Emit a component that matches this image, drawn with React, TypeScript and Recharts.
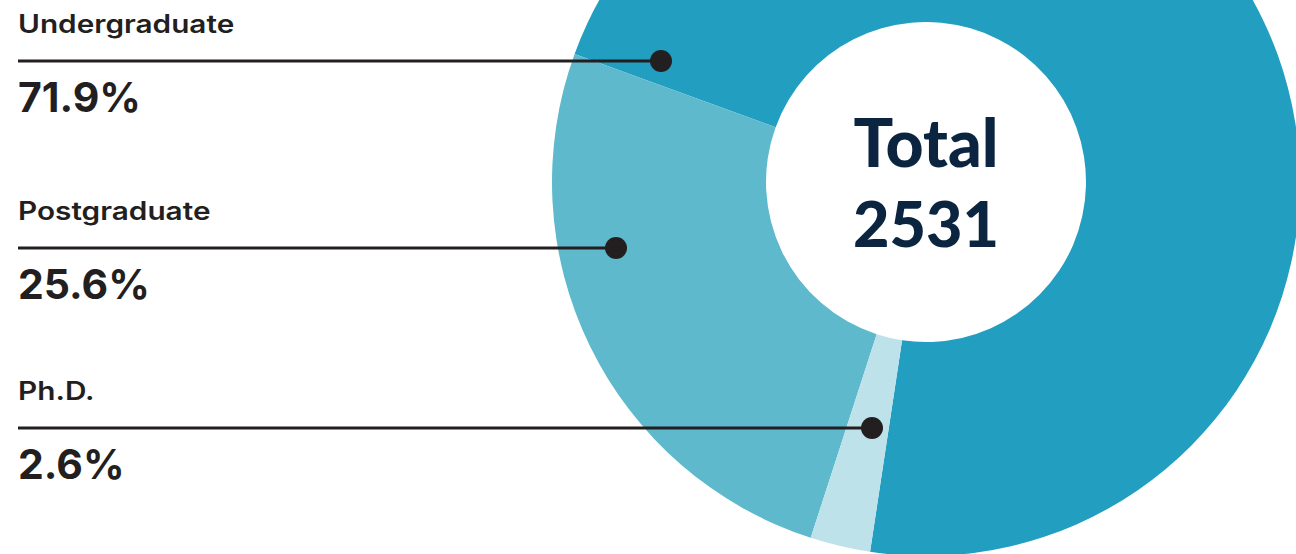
import { PieChart, Pie, Cell } from 'recharts'

const categories = ['Undergraduate', 'Postgraduate', 'Ph.D.']
const shares = [71.9, 25.6, 2.6]
const totalStudents = 2531
const colors = ['#229EC1', '#5EB9CC', '#BEE2EA']

// callout layout (line y and dot x), separate from the data
const calloutY = [61, 248, 428]
const calloutDotX = [661, 616, 872]

const W = 1296
const H = 554
const CX = 926
const CY = 182
const INNER = 160
const OUTER = 374
// puts the Undergraduate/Postgraduate boundary at ~160deg
const START = -98.6

const data = categories.map((name, i) => ({ name, value: shares[i] }))

const ink = '#231f20'
const navy = '#0b2540'

export default function App() {
  return (
    <div
      style={{
        position: 'absolute',
        left: 0,
        top: 0,
        width: W,
        height: H,
        overflow: 'hidden',
        background: '#fff',
      }}
    >
      <PieChart width={W} height={H} margin={{ top: 0, right: 0, bottom: 0, left: 0 }}>
        <Pie
          data={data}
          dataKey="value"
          nameKey="name"
          cx={CX}
          cy={CY}
          innerRadius={INNER}
          outerRadius={OUTER}
          startAngle={START}
          endAngle={START + 360}
          stroke="none"
          isAnimationActive={false}
        >
          {data.map((d, i) => (
            <Cell key={d.name} fill={colors[i]} />
          ))}
        </Pie>
      </PieChart>
      <svg
        width={W}
        height={H}
        style={{ position: 'absolute', left: 0, top: 0, pointerEvents: 'none' }}
      >
        {data.map((d, i) => {
          const y = calloutY[i]
          return (
            <g key={d.name}>
              <line x1={18} x2={calloutDotX[i]} y1={y} y2={y} stroke={ink} strokeWidth={3} />
              <circle cx={calloutDotX[i]} cy={y} r={11} fill={ink} />
              {/* the original face is wide, so stretch Inter a bit */}
              <text
                transform={`translate(18 ${y - 28}) scale(1.19 1)`}
                fill={ink}
                fontFamily="Inter, sans-serif"
                fontWeight={600}
                fontSize={25}
              >
                {d.name}
              </text>
              <text
                x={18}
                y={y + 51}
                fill={ink}
                fontFamily="Inter, sans-serif"
                fontWeight={700}
                fontSize={41}
              >
                {d.value.toFixed(1)}%
              </text>
            </g>
          )
        })}
        <text
          x={CX}
          y={167}
          textAnchor="middle"
          fill={navy}
          fontFamily="Lato, sans-serif"
          fontWeight={900}
          fontSize={66}
        >
          Total
        </text>
        <text
          x={CX}
          y={247}
          textAnchor="middle"
          fill={navy}
          fontFamily="Lato, sans-serif"
          fontWeight={900}
          fontSize={63}
        >
          {totalStudents}
        </text>
      </svg>
    </div>
  )
}
